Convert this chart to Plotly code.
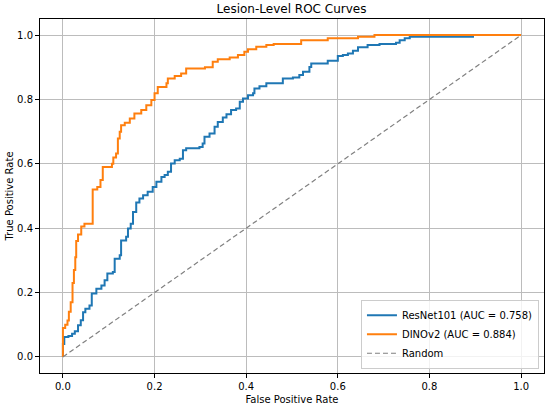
import plotly.graph_objects as go

# ROC step points (fpr, tpr)
resnet_fpr = [0, 0, 0.003, 0.012, 0.02, 0.026, 0.033, 0.039, 0.044, 0.049, 0.058, 0.063, 0.073,
              0.084, 0.091, 0.097, 0.109, 0.113, 0.124, 0.127, 0.138, 0.142, 0.148, 0.153, 0.16,
              0.167, 0.175, 0.185, 0.196, 0.204, 0.215, 0.222, 0.229, 0.236, 0.244, 0.255, 0.262,
              0.269, 0.298, 0.305, 0.309, 0.32, 0.331, 0.338, 0.349, 0.357, 0.367, 0.378, 0.386,
              0.393, 0.404, 0.415, 0.418, 0.429, 0.444, 0.48, 0.502, 0.516, 0.524, 0.538, 0.542,
              0.578, 0.6, 0.611, 0.622, 0.633, 0.644, 0.665, 0.691, 0.727, 0.735, 0.746, 0.757,
              0.895, 0.895, 1.0]
resnet_tpr = [0, 0.04, 0.062, 0.065, 0.072, 0.08, 0.098, 0.114, 0.139, 0.15, 0.16, 0.197, 0.212,
              0.222, 0.238, 0.259, 0.264, 0.305, 0.316, 0.362, 0.373, 0.399, 0.414, 0.45, 0.48,
              0.492, 0.502, 0.513, 0.528, 0.544, 0.559, 0.565, 0.575, 0.601, 0.611, 0.616, 0.642,
              0.648, 0.652, 0.663, 0.684, 0.694, 0.715, 0.73, 0.744, 0.754, 0.767, 0.772, 0.793,
              0.803, 0.813, 0.819, 0.834, 0.841, 0.85, 0.865, 0.868, 0.876, 0.886, 0.901, 0.912,
              0.92, 0.935, 0.938, 0.943, 0.951, 0.962, 0.969, 0.972, 0.976, 0.984, 0.99, 0.995,
              0.995, 1.0, 1.0]

dino_fpr = [0, 0, 0.005, 0.01, 0.013, 0.017, 0.021, 0.024, 0.027, 0.029, 0.033, 0.04, 0.047,
            0.065, 0.075, 0.082, 0.087, 0.107, 0.11, 0.116, 0.12, 0.124, 0.127, 0.135, 0.146,
            0.156, 0.171, 0.182, 0.193, 0.2, 0.207, 0.226, 0.229, 0.244, 0.258, 0.269, 0.31,
            0.327, 0.338, 0.364, 0.382, 0.396, 0.404, 0.422, 0.444, 0.46, 0.52, 0.578, 0.644,
            0.68, 1.0]
dino_tpr = [0, 0.09, 0.1, 0.113, 0.14, 0.17, 0.23, 0.27, 0.31, 0.36, 0.38, 0.405, 0.414,
            0.52, 0.528, 0.55, 0.59, 0.6, 0.62, 0.632, 0.679, 0.7, 0.72, 0.728, 0.741,
            0.756, 0.767, 0.782, 0.798, 0.819, 0.839, 0.85, 0.865, 0.873, 0.881, 0.896, 0.9,
            0.917, 0.925, 0.93, 0.938, 0.948, 0.956, 0.964, 0.969, 0.972, 0.984, 0.99, 0.995,
            1.0, 1.0]

random_x = [0, 1]
random_y = [0, 1]

ticks = [0.0, 0.2, 0.4, 0.6, 0.8, 1.0]
tick_text = ['0.0', '0.2', '0.4', '0.6', '0.8', '1.0']

data = [
    go.Scatter(x=resnet_fpr, y=resnet_tpr, mode='lines', line_shape='hv',
               name='ResNet101 (AUC = 0.758)',
               line=dict(color='#1f77b4', width=2)),
    go.Scatter(x=dino_fpr, y=dino_tpr, mode='lines', line_shape='hv',
               name='DINOv2 (AUC = 0.884)',
               line=dict(color='#ff7f0e', width=2)),
    go.Scatter(x=random_x, y=random_y, mode='lines', name='Random',
               line=dict(color='#808080', width=1.2, dash='5px,3px')),
]

axis_style = dict(
    range=[-0.05, 1.05], tickvals=ticks, ticktext=tick_text,
    showgrid=True, gridcolor='#bcbcbc', gridwidth=1, zeroline=False,
    showline=True, linecolor='black', linewidth=1, mirror=True,
    ticks='outside', ticklen=4, tickcolor='black',
    tickfont=dict(size=10, color='black'), automargin=False,
)

layout = go.Layout(
    width=550, height=406,
    font=dict(family='DejaVu Sans', color='black'),
    title=dict(text='Lesion-Level ROC Curves', x=0.53, xanchor='center',
               y=0.978, yanchor='middle', font=dict(size=12)),
    xaxis=dict(axis_style, title=dict(text='False Positive Rate', font=dict(size=10), standoff=4)),
    yaxis=dict(axis_style, title=dict(text='True Positive Rate', font=dict(size=10), standoff=1)),
    legend=dict(x=0.99, y=0.012, xanchor='right', yanchor='bottom',
                bgcolor='rgba(255,255,255,0.8)', bordercolor='#cccccc', borderwidth=1,
                font=dict(size=10), tracegroupgap=0, itemwidth=30),
    margin=dict(l=40, r=6, t=19, b=33),
    plot_bgcolor='white', paper_bgcolor='white',
    showlegend=True,
)

fig = go.Figure(data=data, layout=layout)
# drop the browser's default page margin so the figure sits at the window's corner
fig.write_html('out.html', config={'displayModeBar': False},
               post_script="document.body.style.margin='0';")
